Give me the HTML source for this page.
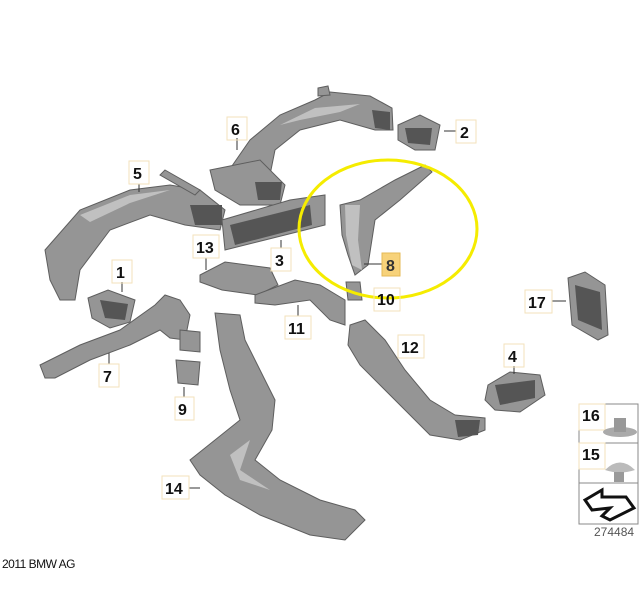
<!DOCTYPE html>
<html><head><meta charset="utf-8"><style>
html,body{margin:0;padding:0;background:#fff;width:642px;height:614px;overflow:hidden}
svg text{font-family:"Liberation Sans",sans-serif}
.l{font-weight:bold;font-size:16px;fill:#111}
.b{fill:none;stroke:#f3e2bb;stroke-width:1}
.ln{stroke:#333;stroke-width:1}
.d{fill:#959595;stroke:#5e5e5e;stroke-width:1}
.dk{fill:#555}
.lt{fill:#c0c0c0}
</style></head><body>
<svg width="642" height="614" viewBox="0 0 642 614" xmlns="http://www.w3.org/2000/svg">
<rect width="642" height="614" fill="#fff"/>
<path class="d" d="M225,176 L250,140 L280,115 L315,100 L330,92 L370,96 L392,108 L393,130 L375,130 L340,120 L300,130 L275,150 L270,175 L240,200 Z"/>
<path class="lt" d="M280,125 L315,108 L360,104 L340,112 L300,120 Z"/>
<path class="dk" d="M372,110 L390,112 L390,130 L375,128 Z"/>
<path class="d" d="M210,170 L260,160 L285,185 L280,205 L240,205 L215,190 Z"/>
<path class="dk" d="M255,182 L282,182 L280,200 L258,200 Z"/>
<path class="d" d="M318,88 L328,86 L330,95 L318,96 Z"/>
<path class="d" d="M398,125 L420,115 L440,125 L435,150 L415,150 L398,140 Z"/>
<path class="dk" d="M405,128 L432,128 L430,145 L408,143 Z"/>
<path class="d" d="M45,250 L80,210 L130,190 L170,185 L200,190 L225,210 L220,230 L185,225 L150,215 L110,230 L80,270 L75,300 L60,300 L50,280 Z"/>
<path class="lt" d="M80,215 L130,195 L170,190 L130,203 L90,222 Z"/>
<path class="dk" d="M190,205 L222,205 L222,225 L195,225 Z"/>
<path class="d" d="M165,170 L200,190 L195,195 L160,175Z"/>
<path class="d" d="M222,220 L290,200 L325,195 L325,225 L265,240 L225,250 Z"/>
<path class="dk" d="M230,225 L310,205 L312,225 L235,245 Z"/>
<path class="d" d="M340,205 L360,200 L395,180 L425,165 L432,172 L400,200 L375,220 L368,265 L355,275 L348,255 L342,235 Z"/>
<path class="lt" d="M345,205 L360,205 L358,240 L362,270 L352,265 L346,235 Z"/>
<path class="d" d="M346,282 L360,282 L362,300 L348,300 Z"/>
<path class="d" d="M200,275 L225,262 L270,268 L278,285 L258,295 L222,290 L200,282 Z"/>
<path class="d" d="M255,295 L295,280 L320,285 L345,300 L345,325 L330,320 L310,300 L275,305 L255,303 Z"/>
<path class="d" d="M88,298 L108,290 L135,300 L130,322 L110,328 L92,318 Z"/>
<path class="dk" d="M100,300 L128,304 L125,320 L105,318 Z"/>
<path class="d" d="M40,365 L80,345 L120,330 L155,305 L165,295 L180,300 L190,315 L185,340 L170,338 L160,330 L130,345 L90,360 L55,378 L45,378 Z"/>
<path class="d" d="M180,330 L200,332 L200,352 L180,350 Z"/>
<path class="d" d="M176,360 L200,362 L198,385 L178,383 Z"/>
<path class="d" d="M215,313 L240,315 L245,340 L260,370 L275,400 L272,430 L255,460 L280,480 L320,500 L355,510 L365,520 L345,540 L310,535 L260,515 L225,495 L200,475 L190,460 L215,440 L240,420 L230,390 L220,350 Z"/>
<path class="lt" d="M230,455 L250,440 L240,470 L270,490 L240,480 Z"/>
<path class="d" d="M350,325 L365,320 L385,340 L405,370 L430,400 L455,415 L485,418 L485,430 L460,440 L430,435 L405,410 L380,385 L360,365 L348,345 Z"/>
<path class="dk" d="M455,420 L480,420 L478,435 L458,437 Z"/>
<path class="d" d="M488,385 L510,372 L540,375 L545,395 L520,412 L495,410 L485,400 Z"/>
<path class="dk" d="M495,385 L535,380 L535,398 L500,405 Z"/>
<path class="d" d="M568,278 L585,272 L605,285 L608,335 L598,340 L572,325 Z"/>
<path class="dk" d="M575,285 L600,292 L602,330 L578,320 Z"/>
<ellipse cx="388" cy="229" rx="89" ry="69" fill="none" stroke="#f5ec00" stroke-width="3"/>
<g>
<line class="ln" x1="237" y1="138" x2="237" y2="150"/><rect class="b" x="227" y="117" width="20" height="23"/><text class="l" x="231" y="135">6</text>
<line class="ln" x1="444" y1="131" x2="456" y2="131"/><rect class="b" x="456" y="120" width="20" height="23"/><text class="l" x="460" y="138">2</text>
<line class="ln" x1="139" y1="184" x2="139" y2="192"/><rect class="b" x="129" y="161" width="20" height="23"/><text class="l" x="133" y="179">5</text>
<line class="ln" x1="206" y1="258" x2="206" y2="270"/><rect class="b" x="193" y="235" width="26" height="23"/><text class="l" x="196" y="253">13</text>
<line class="ln" x1="281" y1="240" x2="281" y2="248"/><rect class="b" x="271" y="248" width="20" height="23"/><text class="l" x="275" y="266">3</text>
<line class="ln" x1="364" y1="264" x2="382" y2="264"/><rect x="382" y="253" width="18" height="23" fill="#f7d27a" stroke="#e6b956"/><text class="l" x="386" y="271" style="fill:#333">8</text>
<rect class="b" x="374" y="288" width="26" height="23"/><text class="l" x="377" y="305">10</text>
<line class="ln" x1="122" y1="282" x2="122" y2="292"/><rect class="b" x="112" y="260" width="20" height="23"/><text class="l" x="116" y="278">1</text>
<line class="ln" x1="552" y1="301" x2="566" y2="301"/><rect class="b" x="525" y="290" width="27" height="23"/><text class="l" x="528" y="308">17</text>
<line class="ln" x1="298" y1="305" x2="298" y2="316"/><rect class="b" x="285" y="316" width="26" height="23"/><text class="l" x="288" y="334">11</text>
<rect class="b" x="398" y="335" width="26" height="23"/><text class="l" x="401" y="353">12</text>
<line class="ln" x1="514" y1="366" x2="514" y2="374"/><rect class="b" x="504" y="344" width="20" height="23"/><text class="l" x="508" y="362">4</text>
<line class="ln" x1="109" y1="353" x2="109" y2="364"/><rect class="b" x="99" y="364" width="20" height="23"/><text class="l" x="103" y="382">7</text>
<line class="ln" x1="184" y1="387" x2="184" y2="397"/><rect class="b" x="175" y="397" width="19" height="23"/><text class="l" x="178" y="415">9</text>
<line class="ln" x1="189" y1="488" x2="200" y2="488"/><rect class="b" x="162" y="476" width="27" height="23"/><text class="l" x="165" y="494">14</text>
</g>
<g fill="none" stroke="#888" stroke-width="1">
<rect x="579" y="404" width="59" height="120"/>
<line x1="579" y1="443" x2="638" y2="443"/>
<line x1="579" y1="483" x2="638" y2="483"/>
</g>
<rect class="b" x="579" y="404" width="26" height="26"/><text class="l" x="582" y="421">16</text>
<rect class="b" x="579" y="443" width="26" height="26"/><text class="l" x="582" y="460">15</text>
<ellipse cx="620" cy="432" rx="17" ry="5" fill="#aaa"/><rect x="614" y="418" width="12" height="14" fill="#999"/>
<path d="M605,470 Q620,455 635,470 Q620,475 605,470Z" fill="#bbb"/><rect x="614" y="472" width="10" height="10" fill="#999"/>
<path d="M585,500 L602,490 L602,497 L626,497 L634,508 L610,520 L602,516 L610,508 L592,510 Z" fill="none" stroke="#111" stroke-width="3"/>
<text x="594" y="536" font-size="12" fill="#555">274484</text>
<text x="2" y="568" font-size="12" fill="#111" letter-spacing="-0.5">2011 BMW AG</text>
</svg>
</body></html>
